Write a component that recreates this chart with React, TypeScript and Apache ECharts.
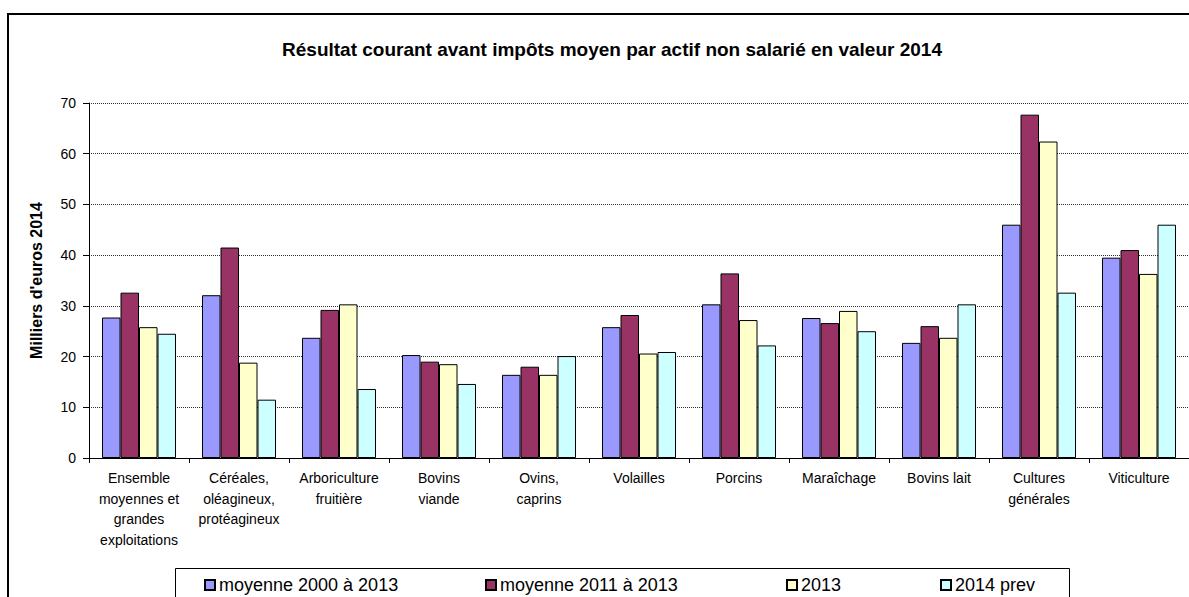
import React, { useEffect, useRef } from "react";
import * as echarts from "echarts";

const categories = [
  "Ensemble\nmoyennes et\ngrandes\nexploitations",
  "Céréales,\noléagineux,\nprotéagineux",
  "Arboriculture\nfruitière",
  "Bovins\nviande",
  "Ovins,\ncaprins",
  "Volailles",
  "Porcins",
  "Maraîchage",
  "Bovins lait",
  "Cultures\ngénérales",
  "Viticulture",
];

const seriesNames = ["moyenne 2000 à 2013", "moyenne 2011 à 2013", "2013", "2014 prev"];
const moy2000_2013 = [27.7, 32.1, 23.7, 20.3, 16.4, 25.8, 30.3, 27.6, 22.7, 46.0, 39.5];
const moy2011_2013 = [32.6, 41.5, 29.2, 19.0, 18.0, 28.2, 36.4, 26.6, 26.0, 67.7, 41.0];
const v2013 = [25.8, 18.8, 30.3, 18.5, 16.4, 20.6, 27.2, 29.0, 23.7, 62.4, 36.3];
const v2014prev = [24.5, 11.5, 13.6, 14.6, 20.1, 20.9, 22.2, 25.0, 30.3, 32.6, 46.0];
const colors = ["#9999FF", "#993366", "#FFFFCC", "#CCFFFF"];
const yTicks = { min: 0, max: 70, interval: 10 };

export default function App() {
  const ref = useRef<HTMLDivElement>(null);
  useEffect(() => {
    if (!ref.current) return;
    const chart = echarts.init(ref.current, undefined, { renderer: "svg" });
    const font = "Liberation Sans, Arial, sans-serif";
    const allData = [moy2000_2013, moy2011_2013, v2013, v2014prev];
    const legendX = [199, 480, 781, 935];
    chart.setOption({
      animation: false,
      textStyle: { fontFamily: font },
      title: {
        text: "Résultat courant avant impôts moyen par actif non salarié en valeur 2014",
        left: 607,
        textAlign: "center",
        top: 35,
        textStyle: { fontSize: 19, fontWeight: "bold", color: "#000", fontFamily: font },
      },
      graphic: [
        {
          type: "rect",
          shape: { x: 8, y: 14, width: 1200, height: 600 },
          style: { fill: "none", stroke: "#000", lineWidth: 2 },
          silent: true,
        },
        {
          type: "rect",
          shape: { x: 175.5, y: 568.5, width: 894, height: 40 },
          style: { fill: "#fff", stroke: "#000", lineWidth: 1 },
          silent: true,
          z: -1,
        },
      ],
      legend: seriesNames.map((n, i) => ({
        data: [n],
        left: legendX[i],
        top: 571,
        itemWidth: 10,
        itemHeight: 10,
        itemGap: 4,
        icon: "rect",
        textStyle: { fontSize: 18, color: "#000", fontFamily: font, padding: [0, 0, 0, -1] },
      })),
      grid: { left: 89, top: 103, width: 1100, height: 355 },
      xAxis: {
        type: "category",
        data: categories,
        axisLine: { lineStyle: { color: "#000", width: 1 } },
        axisTick: { show: true, length: 5, lineStyle: { color: "#000" } },
        axisLabel: {
          color: "#000",
          fontSize: 14,
          lineHeight: 20.5,
          margin: 10,
          interval: 0,
          fontFamily: font,
        },
      },
      yAxis: {
        type: "value",
        min: yTicks.min,
        max: yTicks.max,
        interval: yTicks.interval,
        name: "Milliers d'euros 2014",
        nameLocation: "middle",
        nameGap: 45,
        nameTextStyle: { fontSize: 16, fontWeight: "bold", color: "#000", fontFamily: font },
        axisLine: { show: true, lineStyle: { color: "#000", width: 1 } },
        axisTick: { show: true, length: 6, lineStyle: { color: "#000" } },
        axisLabel: { color: "#000", fontSize: 14, margin: 13, fontFamily: font },
        splitLine: { show: true, lineStyle: { color: "#333", type: [1, 1], width: 1 } },
      },
      series: seriesNames.map((n, i) => ({
        name: n,
        type: "bar",
        data: allData[i],
        barGap: "0%",
        barCategoryGap: "26%",
        itemStyle: { color: colors[i], borderColor: "#000", borderWidth: 1 },
      })),
    });
    return () => chart.dispose();
  }, []);
  return (
    <div
      ref={ref}
      style={{ position: "absolute", left: 0, top: 0, width: 1189, height: 597, background: "#fff" }}
    />
  );
}
